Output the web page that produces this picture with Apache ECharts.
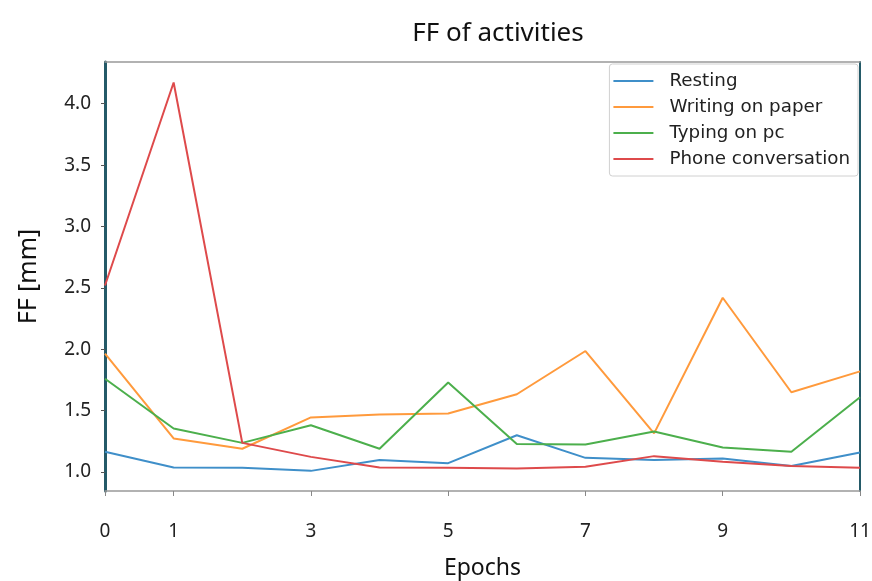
<!DOCTYPE html>
<html>
<head>
<meta charset="utf-8">
<script src="https://cdn.jsdelivr.net/npm/echarts@6/dist/echarts.min.js"></script>
<style>html,body{margin:0;padding:0;background:#fff;}#c{width:872px;height:581px;}</style>
</head>
<body>
<div id="c"></div>
<script>
const epochs = [0,1,2,3,4,5,6,7,8,9,10,11];
const xTickLabels = [0,1,3,5,7,9,11];
const yTickLabels = [1.0,1.5,2.0,2.5,3.0,3.5,4.0];
const seriesNames = ["Resting","Writing on paper","Typing on pc","Phone conversation"];
const resting = [1.165,1.038,1.036,1.010,1.098,1.073,1.300,1.116,1.098,1.110,1.050,1.160];
const writing = [1.965,1.274,1.190,1.445,1.469,1.477,1.634,1.986,1.315,2.420,1.650,1.820];
const typing  = [1.760,1.355,1.238,1.382,1.190,1.730,1.228,1.225,1.330,1.200,1.165,1.610];
const phone   = [2.520,4.173,1.238,1.124,1.038,1.035,1.030,1.043,1.130,1.084,1.049,1.035];
const colors = ["#3f8fc9","#ff9a3c","#4caf4c","#de4a4b"];

const chart = echarts.init(document.getElementById('c'));
const allData = [resting, writing, typing, phone];
const font = "Noto Sans";
chart.setOption({
  animation:false,
  backgroundColor:'#fff',
  title:{text:'FF of activities',left:493,top:16,textAlign:'center',
    textStyle:{fontFamily:font,fontSize:26,fontWeight:'normal',color:'#111'}},
  grid:{left:105,right:12,top:62,bottom:90,containLabel:false,outerBoundsMode:'none'},
  legend:{orient:'vertical',right:14,top:64,itemWidth:40,itemHeight:2,itemGap:8,
    icon:'rect',borderColor:'#d0d0d0',borderWidth:1,borderRadius:3,padding:[8,8,8,4],
    textStyle:{fontFamily:'DejaVu Sans',fontSize:18.3,color:'#222',padding:[0,0,0,11]},
    data:seriesNames},
  xAxis:[{type:'value',min:0,max:11,position:'bottom',
    name:'Epochs',nameLocation:'middle',nameGap:66,
    nameTextStyle:{fontFamily:font,fontSize:23,color:'#111'},
    axisLine:{show:true,onZero:false,lineStyle:{color:'#999',width:1.5}},
    axisTick:{show:true,customValues:xTickLabels,length:5,lineStyle:{color:'#888'}},
    axisLabel:{customValues:xTickLabels,fontFamily:font,fontSize:19,color:'#222',margin:31},
    splitLine:{show:false}},
   {type:'value',min:0,max:11,position:'top',
    axisLine:{show:true,onZero:false,lineStyle:{color:'#999',width:1.5}},
    axisTick:{show:false},axisLabel:{show:false},splitLine:{show:false}}],
  yAxis:[{type:'value',min:0.846,max:4.34,position:'left',
    name:'FF [mm]',nameLocation:'middle',nameGap:64,nameRotate:90,
    nameTextStyle:{fontFamily:font,fontSize:25,color:'#111'},
    axisLine:{show:true,onZero:false,lineStyle:{color:'#245a68',width:3}},
    axisTick:{show:true,customValues:yTickLabels,length:4,lineStyle:{color:'#555'}},
    axisLabel:{customValues:yTickLabels,formatter:v=>v.toFixed(1),fontFamily:font,fontSize:19,color:'#222',margin:14},
    splitLine:{show:false}},
   {type:'value',min:0.846,max:4.34,position:'right',
    axisLine:{show:true,onZero:false,lineStyle:{color:'#245a68',width:2}},
    axisTick:{show:false},axisLabel:{show:false},splitLine:{show:false}}],
  series: seriesNames.map((n,i)=>({
    name:n,type:'line',showSymbol:false,symbol:'none',
    data:epochs.map((e,j)=>[e,allData[i][j]]),
    lineStyle:{width:2,color:colors[i]},itemStyle:{color:colors[i]}
  }))
});
</script>
</body>
</html>
